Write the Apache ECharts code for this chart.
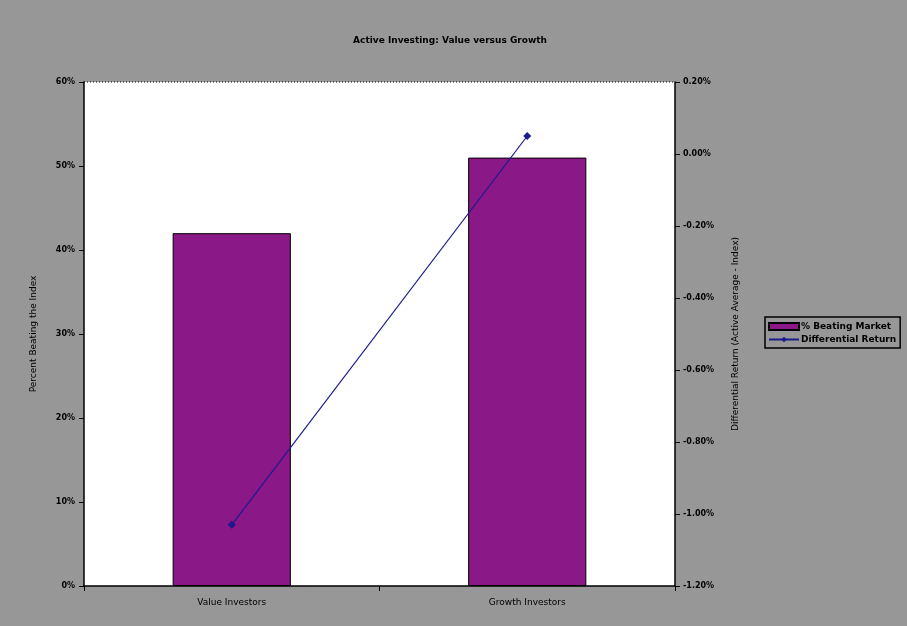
<!DOCTYPE html>
<html><head><meta charset="utf-8">
<script src="https://cdn.jsdelivr.net/npm/echarts@6/dist/echarts.min.js"></script>
<style>html,body{margin:0;padding:0;background:#979797;}#c{width:907px;height:626px;}</style>
</head><body><div id="c"></div>
<script>
const categories = ["Value Investors", "Growth Investors"];
const beatingMarket = [42.0, 51.0];      // % beating market (left axis)
const differentialReturn = [-1.03, 0.05]; // differential return % (right axis)
const leftTicks = [0, 10, 20, 30, 40, 50, 60];
const rightTicks = [-1.2, -1.0, -0.8, -0.6, -0.4, -0.2, 0.0, 0.2];

const font = "DejaVu Sans";
const chart = echarts.init(document.getElementById('c'), null, {renderer: 'canvas'});
chart.setOption({
  backgroundColor: '#979797',
  animation: false,
  title: {
    text: 'Active Investing: Value versus Growth',
    left: 445, top: 31, textAlign: 'center',
    textStyle: {fontFamily: font, fontSize: 9, fontWeight: 'bold', color: '#000'}
  },
  grid: {left: 84, right: 232, top: 82, bottom: 40, show: true, backgroundColor: '#fff', borderWidth: 0},
  legend: {
    left: 765, top: 317, orient: 'vertical', itemGap: 4,
    padding: [5, 4, 4, 3],
    borderColor: '#000', borderWidth: 1.5, backgroundColor: '#979797',
    itemWidth: 30, itemHeight: 7,
    textStyle: {fontFamily: font, fontSize: 9, fontWeight: 'bold', color: '#000', padding: [0, 0, 0, -3]},
    data: [
      {name: '% Beating Market', icon: 'rect'},
      {name: 'Differential Return'}
    ]
  },
  xAxis: {
    type: 'category', data: categories,
    axisLine: {lineStyle: {color: '#000', width: 1.5}},
    axisTick: {show: true, alignWithLabel: false, length: 5, lineStyle: {color: '#000'}},
    axisLabel: {fontFamily: font, fontSize: 9, color: '#000', margin: 12}
  },
  yAxis: [
    {
      type: 'value', min: 0, max: 60, interval: 10, position: 'left',
      name: 'Percent Beating the Index', nameLocation: 'middle', nameGap: 46, nameRotate: 90,
      nameTextStyle: {fontFamily: font, fontSize: 9, color: '#000'},
      axisLine: {show: true, lineStyle: {color: '#000', width: 1.5}},
      axisTick: {show: true, length: 5, lineStyle: {color: '#000'}},
      axisLabel: {fontFamily: font, fontSize: 8, fontWeight: 'bold', color: '#000', margin: 9,
        formatter: v => leftTicks.includes(v) ? v + '%' : ''},
      splitLine: {show: false}
    },
    {
      type: 'value', min: -1.2, max: 0.2, interval: 0.2, position: 'right',
      name: 'Differential Return (Active Average - Index)', nameLocation: 'middle', nameGap: 56, nameRotate: 90,
      nameTextStyle: {fontFamily: font, fontSize: 9, color: '#000'},
      axisLine: {show: true, lineStyle: {color: '#000', width: 1.5}},
      axisTick: {show: true, length: 5, inside: false, lineStyle: {color: '#000'}},
      axisLabel: {fontFamily: font, fontSize: 8, fontWeight: 'bold', color: '#000', margin: 8,
        formatter: v => {
          const r = Math.round(v * 100) / 100;
          return rightTicks.some(t => Math.abs(t - r) < 1e-9) ? r.toFixed(2) + '%' : '';
        }},
      splitLine: {show: false}
    }
  ],
  series: [
    {
      name: '% Beating Market', type: 'bar', yAxisIndex: 0, data: beatingMarket,
      barWidth: '40%',
      itemStyle: {color: '#8a1887', borderColor: '#000', borderWidth: 1}
    },
    {
      name: 'Differential Return', type: 'line', yAxisIndex: 1, data: differentialReturn,
      symbol: 'diamond', symbolSize: 8,
      lineStyle: {color: '#1a1a8c', width: 1.2},
      itemStyle: {color: '#1a1a8c'}
    }
  ],
  graphic: [
    {type: 'line', shape: {x1: 84, y1: 82, x2: 675, y2: 82},
     style: {stroke: '#000', lineWidth: 1, lineDash: [1, 2]}, z: 10}
  ]
});
</script></body></html>
